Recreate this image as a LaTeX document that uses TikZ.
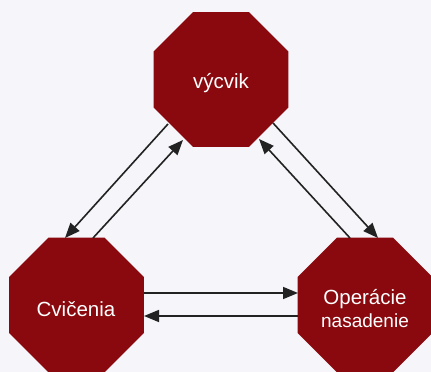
\documentclass[tikz,border=0pt]{standalone}
\usepackage{fontspec}
\setmainfont{Liberation Sans}
\usetikzlibrary{shapes.geometric,arrows.meta,calc}
\definecolor{bgc}{HTML}{F5F5FA}
\definecolor{octred}{HTML}{8A090E}
\definecolor{arrc}{HTML}{222222}
\tikzset{
  oct/.style={regular polygon, regular polygon sides=8, fill=octred, draw=none,
    minimum size=146pt, inner sep=0pt},
  lbl/.style={text=white, anchor=base, inner sep=0pt, font=\fontsize{20.5}{23}\selectfont},
  lblsmall/.style={text=white, anchor=base, inner sep=0pt, font=\fontsize{19}{22}\selectfont},
  arr/.style={draw=arrc, line width=1.6pt, -{Triangle[length=15pt,width=12pt]}}
}
\begin{document}
\begin{tikzpicture}[x=1pt,y=-1pt]
\fill[bgc] (0,0) rectangle (431,372);
\useasboundingbox (0,0) rectangle (431,372);
\node[oct] (v) at (221,79.5) {};
\node[oct] (c) at (76.5,305) {};
\node[oct] (o) at (365,305) {};
\node[lbl] (vt) at (221,88) {výcvik};
\node[lbl] (ct) at (76,316) {Cvičenia};
\node[lbl] (ot1) at (365,304) {Operácie};
\node[lblsmall] (ot2) at (365,327) {nasadenie};
% left pair
\draw[arr] ($(v)+(-53,44.5)$) -- ($(c)+(-11.5,-67)$);
\draw[arr] ($(c)+(16.5,-67)$) -- ($(v)+(-38,60.5)$);
% right pair
\draw[arr] ($(v)+(52,43.5)$) -- ($(o)+(13,-67)$);
\draw[arr] ($(o)+(-15,-67)$) -- ($(v)+(38,59.5)$);
% horizontal pair
\draw[arr] ($(c)+(67.5,-12)$) -- ($(o)+(-67,-12)$);
\draw[arr] ($(o)+(-67,11)$) -- ($(c)+(67.5,11)$);
\end{tikzpicture}
\end{document}
